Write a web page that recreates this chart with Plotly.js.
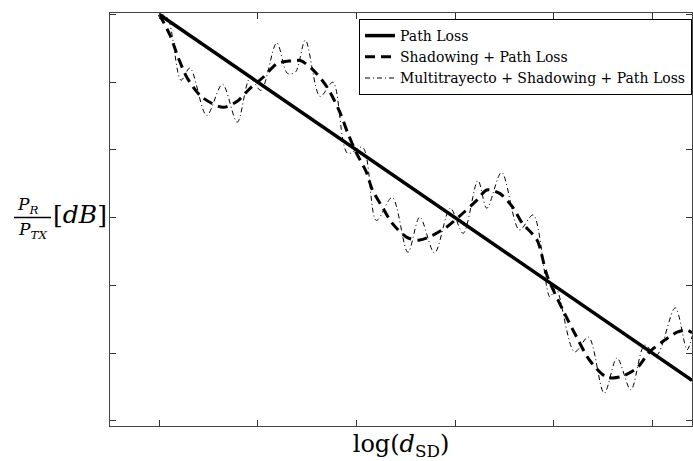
<!DOCTYPE html>
<html>
<head>
<meta charset="utf-8">
<script src="https://cdn.plot.ly/plotly-3.0.1.min.js"></script>
<style>html,body{margin:0;padding:0;background:#fff;}#chart{width:693px;height:461px;}</style>
</head>
<body>
<div id="chart"></div>
<script>
// ---- data (x: log distance units, y: received power units) ----
const pathLossX = [0, 5.4];
const pathLossY = [6.0, 0.6];

const shadowX = [0, 0.11, 0.19, 0.28, 0.41, 0.53, 0.65, 0.79, 0.92, 1.05, 1.19, 1.30, 1.43, 1.56, 1.70, 1.83, 1.91, 2.00, 2.10, 2.16, 2.26, 2.36, 2.51, 2.64, 2.77, 2.91, 3.08, 3.22, 3.32, 3.45, 3.58, 3.68, 3.83, 3.93, 4.09, 4.23, 4.36, 4.53, 4.67, 4.84, 4.97, 5.10, 5.25, 5.35, 5.40];
const shadowY = [6.0, 5.69, 5.37, 5.07, 4.81, 4.69, 4.63, 4.72, 4.91, 5.07, 5.27, 5.31, 5.32, 5.18, 4.93, 4.56, 4.25, 3.95, 3.67, 3.41, 3.16, 2.92, 2.71, 2.67, 2.74, 2.86, 3.07, 3.26, 3.41, 3.36, 3.16, 2.92, 2.67, 2.15, 1.64, 1.24, 0.90, 0.65, 0.65, 0.78, 1.02, 1.17, 1.31, 1.34, 1.30];

const multiX = [0, 0.08, 0.22, 0.31, 0.48, 0.64, 0.79, 0.92, 1.03, 1.19, 1.30, 1.38, 1.48, 1.63, 1.76, 1.91, 2.06, 2.20, 2.36, 2.52, 2.64, 2.79, 2.95, 3.08, 3.23, 3.32, 3.47, 3.65, 3.79, 3.96, 4.02, 4.21, 4.35, 4.51, 4.64, 4.78, 4.92, 5.04, 5.23, 5.35, 5.40];
const multiY = [6.0, 5.96, 5.03, 5.21, 4.51, 4.97, 4.41, 5.06, 4.88, 5.58, 5.13, 5.15, 5.62, 4.79, 5.00, 3.95, 4.04, 2.96, 3.30, 2.49, 3.01, 2.48, 3.14, 2.77, 3.55, 3.14, 3.67, 2.82, 3.04, 1.83, 1.96, 1.02, 1.24, 0.41, 0.93, 0.46, 1.12, 0.97, 1.67, 1.05, 1.25];

const seriesNames = ["Path Loss", "Shadowing + Path Loss", "Multitrayecto + Shadowing + Path Loss"];
const xTicks = [0, 1, 2, 3, 4, 5];
const yTicks = [0, 1, 2, 3, 4, 5, 6];

const serif = "DejaVu Serif";

const traces = [
  {x: pathLossX, y: pathLossY, name: seriesNames[0], mode: "lines",
   line: {color: "#000", width: 3.5}},
  {x: shadowX, y: shadowY, name: seriesNames[1], mode: "lines",
   line: {color: "#000", width: 3, dash: "10px,6px", shape: "spline", smoothing: 0.8}},
  {x: multiX, y: multiY, name: seriesNames[2], mode: "lines",
   line: {color: "#000", width: 1, dash: "5px,3px,1px,3px", shape: "spline", smoothing: 0.9}}
];

const W = 693, H = 461, L = 110, R = 1, T = 13, B = 35;
const pw = W - L - R, ph = H - T - B;
const px = v => (v - L) / pw;
const py = v => (H - B - v) / ph;

const axisCommon = {
  showgrid: false, zeroline: false, showticklabels: false,
  ticks: "inside", ticklen: 6, tickwidth: 1, tickcolor: "#333",
  showline: true, linecolor: "#444", linewidth: 1, mirror: "ticks"
};

const layout = {
  width: W, height: H,
  margin: {l: L, r: R, t: T, b: B},
  paper_bgcolor: "#fff", plot_bgcolor: "#fff",
  font: {family: serif, color: "#000"},
  showlegend: true,
  legend: {
    x: 1, xanchor: "right", y: py(19), yanchor: "top",
    bgcolor: "#fff", bordercolor: "#000", borderwidth: 1,
    font: {family: serif, size: 14, color: "#000"},
    tracegroupgap: 0
  },
  xaxis: Object.assign({}, axisCommon, {
    range: [-0.5, 5.4], tickvals: xTicks,
    title: {text: "log(<i>d</i><sub>SD</sub>)", font: {family: serif, size: 24, color: "#000"}, standoff: 11}
  }),
  yaxis: Object.assign({}, axisCommon, {
    range: [-0.074, 6.022], tickvals: yTicks
  }),
  shapes: [
    {type: "line", xref: "paper", yref: "paper", x0: px(14), x1: px(51), y0: py(217.5), y1: py(217.5),
     line: {color: "#000", width: 1.3}}
  ],
  annotations: [
    {xref: "paper", yref: "paper", x: px(27), y: py(205), xanchor: "center", yanchor: "middle",
     text: "<i>P<sub>R</sub></i>", showarrow: false,
     font: {family: serif, size: 17, color: "#000"}},
    {xref: "paper", yref: "paper", x: px(32), y: py(231), xanchor: "center", yanchor: "middle",
     text: "<i>P<sub>TX</sub></i>", showarrow: false,
     font: {family: serif, size: 17, color: "#000"}},
    {xref: "paper", yref: "paper", x: px(80), y: py(214), xanchor: "center", yanchor: "middle",
     text: "[<i>dB</i>]", showarrow: false,
     font: {family: serif, size: 25, color: "#000"}}
  ]
};

Plotly.newPlot("chart", traces, layout, {displayModeBar: false, staticPlot: true});
</script>
</body>
</html>
